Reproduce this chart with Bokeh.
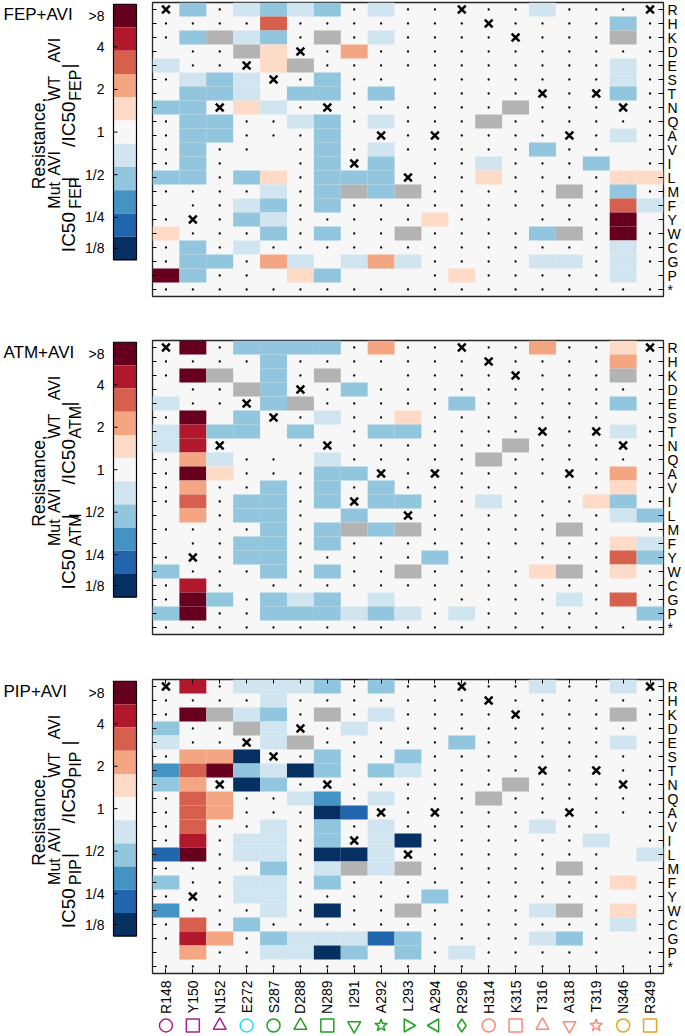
import math
from bokeh.plotting import figure
from bokeh.models import (FactorRange, Range1d, CategoricalAxis, ColumnDataSource, Spacer)
from bokeh.layouts import row, column
from bokeh.embed import file_html
from bokeh.resources import INLINE
from bokeh.core.properties import value

FONT = "Liberation Sans"

# ---------------- data ----------------
residues = ["R148", "Y150", "N152", "E272", "S287", "D288", "N289", "I291", "A292",
            "L293", "A294", "R296", "H314", "K315", "T316", "A318", "T319", "N346", "R349"]
substitutions = ["R", "H", "K", "D", "E", "S", "T", "N", "Q", "A", "V", "I", "L", "M",
                 "F", "Y", "W", "C", "G", "P", "*"]

panel_titles = ["FEP+AVI", "ATM+AVI", "PIP+AVI"]
partner_drugs = ["FEP", "ATM", "PIP"]

# resistance class per cell (one string per substitution row, one char per residue)
# R:>8  r:~6  o:~4  s:~2.5  p:~1.5  w:~1  l:~0.7  b:~0.5  m:~0.35  d:~0.25  D:<=1/8
# g: non-functional (grey)   .: not measured   x: wild-type residue
fep_avi = [
    "xb.lblb.l..x..l...x",
    "....o.......x....b.",
    ".bglb.g.l....x...g.",
    "w..gpx.s...........",
    "l..xpg...........l.",
    ".lblx.b..w.......l.",
    "wbblwbb.bw....x.xb.",
    "bbxpl.x......g...x.",
    ".bb..lb.l...g......",
    ".bb...bwx.x....x.l.",
    ".b..w.b.l.....b..w.",
    ".b.ww.bxbw..l...bw.",
    "bb.bp.bbbx..p....pp",
    "....l.bgbg.....g.b.",
    "w..lb.b..........ol",
    ".x.bl.....p..w...Rw",
    "p...b.b..g....bg.R.",
    ".b.l.............l.",
    ".bb.slwlsl....ll.l.",
    "Rb..wpbwww.p.....lw",
    "...................",
]
atm_avi = [
    "xR.bbbb.s..x..s..px",
    "....b.......x....s.",
    ".Rgwb.g.w....x...g.",
    "w..gbx.b...........",
    "l..xbg.....b.....b.",
    ".Rwbx.l..p.......w.",
    "lrbbwbw.bb....x.xl.",
    "lrxww.x......g...x.",
    ".sl..wl.....g......",
    ".Rp...bbx.x....x.s.",
    ".s..b.b.b.....w..p.",
    ".o.bb.bxbb..l...pb.",
    "ws.bb.wbwx.......lb",
    "....b.bgbg.....g.w.",
    "w..bb.b..........pl",
    ".x.bb.....b..w...ob",
    "b...b.b..g....pg.p.",
    ".r.w.............w.",
    ".Rb.blbwlw.....l.o.",
    "bR..bbblbl.l.....wb",
    "...................",
]
pip_avi = [
    "xr.lllb.b..x..l..lx",
    "....l.......x......",
    ".Rglb.g.l....x...g.",
    "b..glx.l...........",
    "l..xlg.....b.....l.",
    ".ssDx.b..b.........",
    "moRblDb.bl....x.x..",
    "bsxDb.x......g...x.",
    ".os..lm.l...g......",
    ".os...Ddx.x....x...",
    ".o..l.b.l.....l..w.",
    ".r.ll.bxlD......lw.",
    "dR.ll.DDlx.......wl",
    "....b.lglg.....g.ww",
    "b..ll.b..........p.",
    ".x.ll.....b......w.",
    "m...l.D..g....lg.p.",
    ".o.b.............l.",
    ".rs.bllldb....lb.w.",
    "ws..llDbwb.l.....w.",
    "...................",
]
panels = [fep_avi, atm_avi, pip_avi]

level_codes = ["R", "r", "o", "s", "p", "w", "l", "b", "m", "d", "D"]
level_colors = ["#67001f", "#b2182b", "#d6604d", "#f4a582", "#fddbc7", "#f7f7f7",
                "#d1e5f0", "#92c5de", "#4393c3", "#2166ac", "#053061"]
grey_code, grey_color = "g", "#b3b3b3"
dot_code, wt_code = ".", "x"

cbar_tick_labels = [">8", "4", "2", "1", "1/2", "1/4", "1/8"]
cbar_tick_folds = [8, 4, 2, 1, 0.5, 0.25, 0.125]

marker_shapes = ["circle", "square", "triangle", "circle", "circle", "triangle", "square",
                 "inverted_triangle", "star", "triangle", "triangle", "diamond", "circle",
                 "square", "triangle", "inverted_triangle", "star", "circle", "square"]
marker_turn = [0, 0, 0, 0, 0, 0, 0, 0, 0, -90, 90, 0, 0, 0, 0, 0, 0, 0, 0]
PURPLE, CYAN, GREEN, SALMON, GOLD = "#a8208f", "#1ee0ff", "#22a022", "#fa8a7a", "#e8a520"
marker_colors = [PURPLE] * 3 + [CYAN] + [GREEN] * 8 + [SALMON] * 5 + [GOLD] * 2

# ---------------- layout (page pixels) ----------------
LEFT_W = 140            # label + colour bar figure
CB_X0, CB_W = 113, 23   # colour bar box
HM_LEFT, HM_W, HM_RIGHT = 12, 511, 20
FRAME_H = 294
TOP = 2
BOTTOMS = [42, 43, 42]
MARK_H = 18

# rotated y-label pieces: (kind, text, distance from frame top where piece starts)
LABEL_MAIN_X, LABEL_SUP_X, LABEL_SUB_X = 68, 54, 75
LABEL_MAIN_PX, LABEL_SCRIPT_PX = 19, 16

x_range = FactorRange(*residues)
y_range = FactorRange(*reversed(substitutions))


def no_grid(f):
    f.xgrid.grid_line_color = None
    f.ygrid.grid_line_color = None


def left_fig(k, bottom):
    H = TOP + FRAME_H + bottom
    v0 = -3 - 6.0 * bottom / FRAME_H
    v1 = -3 + 6.0 * (H - bottom) / FRAME_H
    f = figure(width=LEFT_W, height=H, x_range=Range1d(0, LEFT_W),
               y_range=Range1d(0, H), extra_y_ranges={"cb": Range1d(v0, v1)},
               min_border_left=0, min_border_right=0, min_border_top=0, min_border_bottom=0,
               x_axis_location=None, y_axis_location=None, toolbar_location=None,
               output_backend="svg", outline_line_color=None)
    no_grid(f)

    def Y(rel):
        return H - (TOP + rel)

    common = dict(text_font=value(FONT), text_color="black")
    f.text(x=[3], y=[Y(12)], text=[panel_titles[k]], text_font_size="17px",
           text_baseline="middle", text_align="left", **common)
    f.text(x=[38], y=[Y(160)], text=["Resistance,"], angle=math.pi / 2,
           text_font_size="17.5px", text_align="center", text_baseline="alphabetic", **common)

    drug = partner_drugs[k]
    pieces = [("m", "IC50", 285), ("u", "Mut", 235), ("d", drug, 235), ("m", "|", 204),
              ("u", "AVI", 197), ("m", "/IC50", 164), ("u", "WT", 111), ("d", drug, 111),
              ("m", "|", 74), ("u", "AVI", 67)]
    xs = {"m": LABEL_MAIN_X, "u": LABEL_SUP_X, "d": LABEL_SUB_X}
    for kinds, size in (("m", LABEL_MAIN_PX), ("ud", LABEL_SCRIPT_PX)):
        sel = [p for p in pieces if p[0] in kinds]
        f.text(x=[xs[p[0]] for p in sel], y=[Y(p[2]) for p in sel], text=[p[1] for p in sel],
               angle=math.pi / 2, text_font_size=f"{size}px", text_align="left",
               text_baseline="alphabetic", **common)

    # colour bar (log2 fold scale on the "cb" range)
    n = len(level_colors)
    block = 6.0 / n
    centers = [3 - block * (i + 0.5) for i in range(n)]
    cx = CB_X0 + CB_W / 2
    f.rect(x=cx, y=centers, width=CB_W, height=block, fill_color=level_colors,
           line_color=None, y_range_name="cb")
    f.rect(x=cx, y=0, width=CB_W, height=6, fill_color=None, line_color="black",
           line_width=1.2, y_range_name="cb")
    lim = 3 - block / 2
    ticks = [max(-lim, min(lim, math.log2(v))) for v in cbar_tick_folds]
    f.segment(x0=CB_X0, y0=ticks, x1=CB_X0 + 4, y1=ticks, line_color="black",
              line_width=1, y_range_name="cb")
    f.text(x=CB_X0 - 9, y=ticks, text=cbar_tick_labels, text_align="right",
           text_baseline="middle", text_font_size="14px", y_range_name="cb", **common)
    return f


def tick_only_axis():
    return CategoricalAxis(axis_line_color=None, major_tick_in=4, major_tick_out=0,
                           major_tick_line_color="black", major_label_standoff=0,
                           major_label_text_font_size="0px", major_label_text_color=None,
                           major_label_text_alpha=0)


def heat_fig(codes, bottom, last):
    f = figure(x_range=x_range, y_range=y_range, frame_width=HM_W, frame_height=FRAME_H,
               min_border_left=HM_LEFT, min_border_right=HM_RIGHT, min_border_top=TOP,
               min_border_bottom=bottom, x_axis_location=None, y_axis_location=None,
               toolbar_location=None, output_backend="svg",
               background_fill_color="#f7f7f7", outline_line_color="#262626",
               outline_line_width=1.3)
    no_grid(f)
    cx, cy, cc, dx, dy, xx, xy = [], [], [], [], [], [], []
    for ri, aa in enumerate(substitutions):
        rs = (codes[ri] + "." * len(residues))[:len(residues)]
        for ci, res in enumerate(residues):
            ch = rs[ci]
            if ch == grey_code:
                cx.append(res); cy.append(aa); cc.append(grey_color)
            elif ch in level_codes:
                if ch != "w":
                    cx.append(res); cy.append(aa); cc.append(level_colors[level_codes.index(ch)])
            elif ch == dot_code:
                dx.append(res); dy.append(aa)
            elif ch == wt_code:
                xx.append(res); xy.append(aa)
    f.rect(x=cx, y=cy, width=1, height=1, fill_color=cc, line_color=None)
    f.scatter(x=dx, y=dy, marker="circle", size=2.3, fill_color="black", line_color=None)
    f.scatter(x=xx, y=xy, marker="x", size=11, line_color="black", line_width=2.5)

    rax = CategoricalAxis(axis_line_color=None, major_tick_in=5, major_tick_out=0,
                          major_tick_line_color="black", major_label_standoff=4,
                          major_label_text_font=FONT, major_label_text_font_size="14px",
                          major_label_text_color="black")
    f.add_layout(rax, "right")
    f.add_layout(tick_only_axis(), "left")
    if last:
        bax = CategoricalAxis(axis_line_color=None, major_tick_in=5, major_tick_out=0,
                              major_tick_line_color="black", major_label_standoff=7,
                              major_label_orientation=math.pi / 2,
                              major_label_text_font=FONT, major_label_text_font_size="14px",
                              major_label_text_color="black")
        f.add_layout(bax, "below")
        f.add_layout(tick_only_axis(), "above")
    return f


def marker_fig():
    f = figure(x_range=x_range, y_range=Range1d(0, 1), frame_width=HM_W, frame_height=MARK_H,
               min_border_left=HM_LEFT, min_border_right=HM_RIGHT, min_border_top=0,
               min_border_bottom=0, x_axis_location=None, y_axis_location=None,
               toolbar_location=None, output_backend="svg", outline_line_color=None)
    no_grid(f)
    src = ColumnDataSource(dict(x=residues, marker=marker_shapes,
                                angle=[math.radians(a) for a in marker_turn],
                                color=marker_colors))
    f.scatter(x="x", y=0.5, marker="marker", angle="angle", size=13, fill_color=None,
              line_color="color", line_width=1.5, source=src)
    return f


rows_out = []
for k in range(3):
    b = BOTTOMS[k]
    rows_out.append(row(left_fig(k, b), heat_fig(panels[k], b, k == 2)))
rows_out.append(row(Spacer(width=LEFT_W, height=MARK_H), marker_fig()))
layout = column(*rows_out)

open("out.html", "w").write(file_html(layout, INLINE))
